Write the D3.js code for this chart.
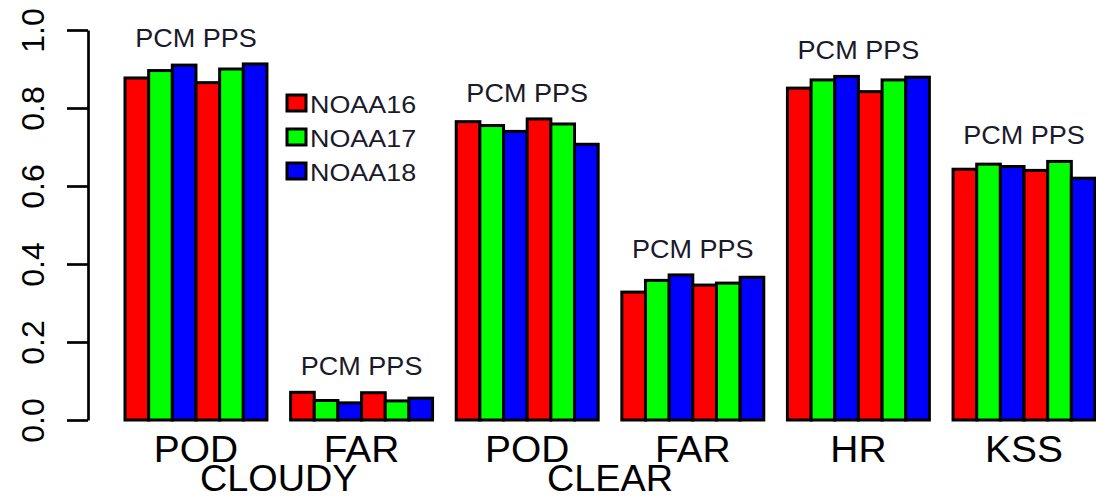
<!DOCTYPE html>
<html><head><meta charset="utf-8">
<script src="https://cdn.jsdelivr.net/npm/d3@7"></script>
<style>
html,body{margin:0;padding:0;background:#fff;}
svg{display:block;font-family:"Liberation Sans",Arial,sans-serif;}
</style></head>
<body>
<svg id="chart" width="1096" height="498"></svg>
<script>
// ---- data ----
const metrics = ["POD","FAR","POD","FAR","HR","KSS"];
const sections = ["CLOUDY","CLEAR"];
const satellites = ["NOAA16","NOAA17","NOAA18"];
const methods = ["PCM","PPS"];
// values per metric group: PCM(N16,N17,N18), PPS(N16,N17,N18)
const cloudyPOD = [0.877,0.896,0.910,0.865,0.900,0.913];
const cloudyFAR = [0.071,0.050,0.044,0.070,0.049,0.056];
const clearPOD  = [0.765,0.755,0.740,0.772,0.759,0.707];
const clearFAR  = [0.328,0.358,0.372,0.346,0.351,0.366];
const clearHR   = [0.851,0.872,0.881,0.842,0.872,0.879];
const clearKSS  = [0.643,0.656,0.650,0.640,0.663,0.620];
const yTicks = [0.0,0.2,0.4,0.6,0.8,1.0];
const colors = ["#ff0000","#00ff00","#0000ff"];

const groups = [cloudyPOD, cloudyFAR, clearPOD, clearFAR, clearHR, clearKSS];

const svg = d3.select("#chart");
const barsPer = 6, gap = 1;
const x = d3.scaleLinear().domain([1, 42]).range([125, 1095]);
const w = x(2) - x(1);
const y = d3.scaleLinear().domain([0, 1]).range([420, 30]);

function stretch(sel, f){
  sel.each(function(){
    const L = this.getComputedTextLength();
    d3.select(this).attr("textLength", L*f).attr("lengthAdjust","spacingAndGlyphs");
  });
}

// bars
groups.forEach((vals, g) => {
  const start = 1 + g*(barsPer+gap);
  svg.append("g").selectAll("rect").data(vals).join("rect")
    .attr("x", (d,i) => x(start+i))
    .attr("y", d => y(d))
    .attr("width", w)
    .attr("height", d => y(0) - y(d))
    .attr("fill", (d,i) => colors[i%3])
    .attr("stroke", "#000")
    .attr("stroke-width", 3);
  const cx = x(start) + barsPer*w/2;
  const t = svg.append("text")
    .attr("x", cx)
    .attr("y", y(d3.max(vals)) - 17)
    .attr("text-anchor","middle")
    .attr("font-size", 25.5)
    .attr("fill","#1a1a2a")
    .text(methods.join(" "));
  stretch(t, 1.06);
  const m = svg.append("text")
    .attr("x", cx).attr("y", 462)
    .attr("text-anchor","middle")
    .attr("font-size", 36)
    .attr("fill","#000")
    .text(metrics[g]);
  stretch(m, 1.08);
});

// section labels, centered between two groups
sections.forEach((s, k) => {
  const g1 = 1 + (2*k)*(barsPer+gap), g2 = 1 + (2*k+1)*(barsPer+gap);
  const cx = ((x(g1)+barsPer*w/2) + (x(g2)+barsPer*w/2))/2;
  const t = svg.append("text")
    .attr("x", cx).attr("y", 491)
    .attr("text-anchor","middle")
    .attr("font-size", 36)
    .attr("fill","#000")
    .text(s);
  stretch(t, 1.05);
});

// y axis
const ax = svg.append("g")
  .attr("transform","translate(88,0)")
  .call(d3.axisLeft(y).tickValues(yTicks).tickSize(21).tickSizeOuter(0).tickFormat(d3.format(".1f")));
ax.select(".domain").attr("stroke","#000").attr("stroke-width",2.7);
ax.selectAll(".tick line").attr("stroke","#000").attr("stroke-width",2.7);
ax.selectAll(".tick text")
  .attr("x",0).attr("dy",0)
  .attr("text-anchor","middle")
  .attr("transform","translate(-44,0) rotate(-90)")
  .attr("font-size",32)
  .attr("font-family","Liberation Sans, Arial, sans-serif")
  .attr("fill","#000");

// legend
const lg = svg.append("g");
satellites.forEach((s, i) => {
  const cy = 103 + i*34;
  lg.append("rect")
    .attr("x", 287).attr("y", cy-8).attr("width", 19).attr("height", 16)
    .attr("fill", colors[i]).attr("stroke","#000").attr("stroke-width",3);
  const t = lg.append("text")
    .attr("x", 310).attr("y", cy+10)
    .attr("font-size", 24)
    .attr("fill","#1a1a2a")
    .text(s);
  stretch(t, 1.12);
});
</script>
</body></html>
